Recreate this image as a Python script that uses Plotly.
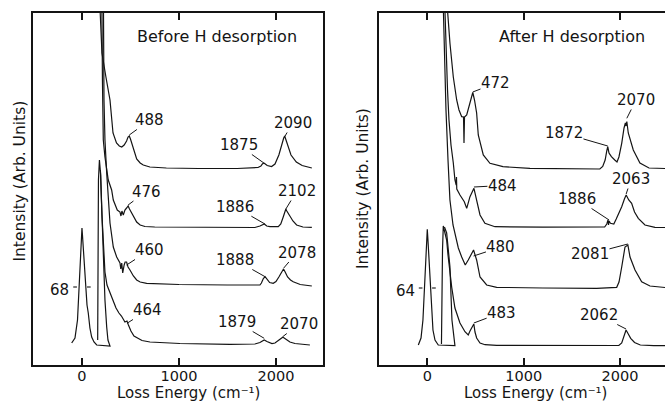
import plotly.graph_objects as go

# ---------------- data (x: loss energy in cm-1, y: intensity, arb. units) ----------------
# Before H desorption
before_A_x = [180, 186, 206, 247, 289, 320, 356, 385, 410, 435, 460, 475, 488, 500, 512, 535, 564, 600, 632, 700,
              870, 1200, 1600, 1815, 1845, 1860, 1875, 1890, 1910, 1955, 1990, 2030, 2060, 2080, 2090, 2100, 2125,
              2155, 2210, 2270, 2370]
before_A_y = [370, 352, 312, 288, 265, 232, 222, 219, 218, 220, 224, 228, 229, 226, 222, 213, 206, 202, 200, 198,
              197, 196.5, 196.5, 197.5, 199, 201, 202, 201, 199.5, 198.5, 201, 210, 222, 227, 229, 226, 217,
              210, 203, 199.5, 197]

before_B_x = [200, 206, 211, 220, 237, 271, 306, 323, 364, 392, 402, 412, 426, 443, 460, 476, 490, 512, 540, 564,
              600, 649, 750, 1010, 1500, 1783, 1835, 1860, 1880, 1905, 1938, 2024, 2050, 2075, 2092, 2102, 2112,
              2124, 2144, 2175, 2213, 2278, 2370]
before_B_y = [380, 352, 285, 225, 208, 185, 175, 165, 155, 153, 149, 154, 150, 155, 157, 159, 156, 152, 147, 143,
              140, 138.5, 138, 137.7, 137.5, 137.5, 139, 140, 141, 139, 138.3, 138.3, 141, 148, 153, 156, 154,
              152, 148, 144, 140, 138, 137.7]

before_C_x = [215, 222, 227, 237, 255, 289, 323, 358, 392, 400, 410, 420, 435, 445, 460, 475, 495, 530, 564, 600,
              667, 1000, 1500, 1835, 1850, 1870, 1888, 1905, 1935, 1972, 2000, 2030, 2055, 2078, 2095, 2120, 2150,
              2178, 2250, 2370]
before_C_y = [380, 352, 265, 225, 192, 142, 118, 108, 102, 96, 102, 92, 100, 103, 103, 98, 95, 89, 85, 83,
              81.7, 80.5, 80, 80, 82, 86.5, 88.3, 86, 82.5, 81.7, 83.5, 88, 93, 96, 93, 88, 85,
              83.3, 80.5, 79]

before_D_x = [162, 163, 170, 180, 193, 206, 222, 237, 258, 289, 320, 351, 381, 407, 443, 464, 479, 505, 536, 567,
              619, 701, 1010, 1526, 1783, 1835, 1860, 1879, 1907, 1959, 1990, 2031, 2055, 2070, 2085, 2103, 2144,
              2196, 2350]
before_D_y = [25, 115, 185, 205, 190, 150, 115, 93, 80, 72, 65, 57, 52, 49, 43, 44, 40, 34, 29, 27,
              24.5, 23, 21.5, 20.7, 21, 22.5, 24, 25, 23.5, 21.5, 22, 25, 27, 27.7, 27, 26, 23,
              21.5, 20]

before_elastic_x = [-106, -72, -46, -26, -10, 0, 5, 21, 36, 52, 65, 82, 100, 124, 152, 289, 268, 255, 237, 220, 203, 190]
before_elastic_y = [22, 27, 45, 80, 120, 137, 130, 105, 80, 60, 52, 37, 28, 23, 20, 19, 25, 38, 65, 108, 158, 195]

before_fwhm = 68
before_half_max = 78

before_peak_labels = ["488", "1875", "2090", "476", "1886", "2102", "460", "1888", "2078", "464", "1879", "2070"]
before_peak_x = [488, 1875, 2090, 476, 1886, 2102, 460, 1888, 2078, 464, 1879, 2070]
before_peak_y = [230, 202, 228.3, 160, 141, 156, 100, 88.3, 96.7, 41.7, 26.7, 28.3]

# After H desorption
after_A_x = [204, 212, 235, 270, 305, 329, 357, 376, 381, 386, 409, 443, 472, 490, 512, 529, 547, 581, 650, 785,
             1065, 1740, 1790, 1820, 1845, 1862, 1872, 1885, 1910, 1945, 1968, 1988, 2017, 2041, 2055, 2062, 2070,
             2085, 2113, 2137, 2206, 2300, 2466]
after_A_y = [370, 352, 322, 288, 265, 255, 248.3, 248, 222, 248, 250, 262, 272.5, 265, 252, 230, 222, 210, 201.7, 198.3,
             196.7, 195.7, 196, 198.5, 205, 214, 218.3, 212, 208.3, 205, 203, 208, 221.7, 237, 242, 239, 243.5,
             232, 222, 215, 202, 197, 196.5]

after_B_x = [178, 184, 194, 210, 225, 246, 270, 287, 300, 303, 306, 339, 384, 409, 443, 484, 512, 547, 598, 702,
             1200, 1809, 1840, 1862, 1875, 1880, 1886, 1900, 1935, 1960, 1990, 2017, 2045, 2063, 2090, 2120, 2150,
             2189, 2258, 2362, 2466]
after_B_y = [370, 352, 315, 275, 245, 220, 202, 185, 180, 188, 176, 170, 163.3, 156.7, 168.3, 176.7, 165, 150, 141.7, 138.3,
             137.8, 137.7, 138, 141, 145, 140, 144, 141.7, 141, 146, 152, 158.3, 166, 170, 165, 161.7, 153,
             146.7, 140, 137.7, 137.5]

after_C_x = [163, 168, 178, 194, 215, 235, 267, 298, 322, 357, 394, 425, 450, 480, 512, 529, 547, 616, 720, 1200,
             1757, 1965, 1989, 2017, 2051, 2081, 2103, 2155, 2224, 2310, 2466]
after_C_y = [370, 352, 305, 255, 205, 165, 140, 125, 117, 108, 100, 105, 110, 115, 105, 97, 88, 80, 77.7, 77,
             76.7, 77.7, 83, 98, 118, 120, 108, 95, 83.3, 79, 77.5]

after_D_x = [147, 149, 152, 158, 166, 201, 215, 253, 287, 339, 391, 425, 443, 465, 483, 495, 512, 547, 599, 720,
             1200, 1800, 1987, 2017, 2040, 2062, 2085, 2110, 2150, 2210, 2350, 2466]
after_D_y = [21, 45, 85, 115, 139, 125, 110, 78, 57, 42, 33.3, 30, 34, 38.5, 41, 33, 27, 22, 20.3, 19.7,
             19.5, 19.3, 19.5, 22, 30, 35, 31, 26.7, 22.5, 20, 19.3, 19.3]

after_elastic_x = [-93, -65, -45, -29, -19, 0, 7, 23, 33, 46, 59, 80, 114, 287, 256, 235, 201, 178]
after_elastic_y = [20, 27, 45, 75, 105, 135.7, 125, 95, 70, 48.3, 35, 25, 20, 19.3, 45, 98.3, 132, 138]

after_fwhm = 64
after_half_max = 77

after_peak_labels = ["472", "2070", "1872", "484", "2063", "1886", "480", "2081", "483", "2062"]
after_peak_x = [472, 2070, 1872, 484, 2063, 1886, 480, 2081, 483, 2062]
after_peak_y = [273, 246.7, 219, 178, 171, 145, 109, 121, 42, 36]

tick_values = [0, 1000, 2000]
tick_labels = ["0", "1000", "2000"]

# ---------------- styling / placement ----------------
INK = "#141414"
FONT = "DejaVu Sans"
before_label_off = [(20.7, -15), (-25.3, -18), (8, -13.7), (18, -13.5), (-30, -17.3), (11, -18),
                    (23, -15), (-29.6, -16.7), (13.4, -15.8), (21, -13.3), (-27.6, -16.3), (16.2, -12.7)]
after_label_off = [(22.7, -8.7), (9.2, -18.3), (-43.8, -12.7), (28.5, -1.5), (5, -15), (-32, -21),
                   (27.4, -9), (-37.9, 10), (27.8, -10.5), (-27.4, -14)]

fig = go.Figure()


def add_curve(x, y, xa, ya):
    fig.add_trace(go.Scatter(x=x, y=y, mode="lines", line=dict(color=INK, width=1.2),
                             xaxis=xa, yaxis=ya, showlegend=False, hoverinfo="skip"))


for xs, ys in [(before_A_x, before_A_y), (before_B_x, before_B_y), (before_C_x, before_C_y),
               (before_D_x, before_D_y), (before_elastic_x, before_elastic_y)]:
    add_curve(xs, ys, "x", "y")
for xs, ys in [(after_A_x, after_A_y), (after_B_x, after_B_y), (after_C_x, after_C_y),
               (after_D_x, after_D_y), (after_elastic_x, after_elastic_y)]:
    add_curve(xs, ys, "x2", "y2")


def fwhm_marks(fwhm, level, xa, ya, label):
    h = fwhm / 2
    gap, length = 18, 38
    fig.add_trace(go.Scatter(x=[-(h + gap + length), -(h + gap), None, h + gap, h + gap + length],
                             y=[level, level, None, level, level], mode="lines",
                             line=dict(color=INK, width=1.1), xaxis=xa, yaxis=ya,
                             showlegend=False, hoverinfo="skip"))
    fig.add_annotation(x=-(h + gap + length), y=level, xref=xa, yref=ya, text=label, showarrow=False,
                       xanchor="right", yanchor="middle", xshift=-2, yshift=-3,
                       font=dict(family=FONT, size=15, color=INK))


fwhm_marks(before_fwhm, before_half_max, "x", "y", str(before_fwhm))
fwhm_marks(after_fwhm, after_half_max, "x2", "y2", str(after_fwhm))


def peak_labels(labels, xs, ys, offs, xa, ya):
    for t, px, py, (ax, ay) in zip(labels, xs, ys, offs):
        fig.add_annotation(x=px, y=py, xref=xa, yref=ya, text=t, showarrow=True, arrowhead=0,
                           arrowwidth=1, arrowcolor=INK, ax=ax, ay=ay, standoff=0, borderpad=0,
                           font=dict(family=FONT, size=15, color=INK))


peak_labels(before_peak_labels, before_peak_x, before_peak_y, before_label_off, "x", "y")
peak_labels(after_peak_labels, after_peak_x, after_peak_y, after_label_off, "x2", "y2")


# text annotations (titles)
def paper_text(x, y, text, size, angle=0):
    fig.add_annotation(x=x, y=y, xref="paper", yref="paper", text=text, showarrow=False,
                       xanchor="center", yanchor="middle", textangle=angle, borderpad=0,
                       font=dict(family=FONT, size=size, color=INK))


paper_text(0.327, 0.9104, "Before H desorption", 16)
paper_text(0.8597, 0.9087, "After H desorption", 16)
paper_text(0.0286, 0.5485, "Intensity (Arb. Units)", 15.5, -90)
paper_text(0.5459, 0.53, "Intensity (Arb. Units)", 15.5, -90)
paper_text(0.2832, 0.0215, "Loss Energy (cm⁻¹)", 15)
paper_text(0.805, 0.0215, "Loss Energy (cm⁻¹)", 15)

xcommon = dict(showline=True, linewidth=2, linecolor=INK, mirror="ticks", ticks="inside", ticklen=7,
               tickwidth=1.5, tickcolor=INK, tickvals=tick_values, ticktext=tick_labels,
               ticklabelstandoff=-3,
               tickfont=dict(family=FONT, size=14.5, color=INK), showgrid=False, zeroline=False)
ycommon = dict(showline=True, linewidth=2, linecolor=INK, ticks="", showticklabels=False,
               showgrid=False, zeroline=False, range=[0, 352], domain=[0.092, 0.9677])

fig.update_layout(
    width=665, height=402, margin=dict(l=0, r=0, t=0, b=0),
    paper_bgcolor="white", plot_bgcolor="white", showlegend=False,
    xaxis=dict(domain=[0.0496, 0.4857], range=[-505, 2485], anchor="y", **xcommon),
    yaxis=dict(anchor="x", mirror=True, **ycommon),
    xaxis2=dict(domain=[0.5699, 1.0], range=[-501, 2466], anchor="y2", **xcommon),
    yaxis2=dict(anchor="x2", mirror=False, **ycommon),
)

fig.write_html("out.html", config={"displayModeBar": False},
               post_script="document.body.style.margin='0px';")
